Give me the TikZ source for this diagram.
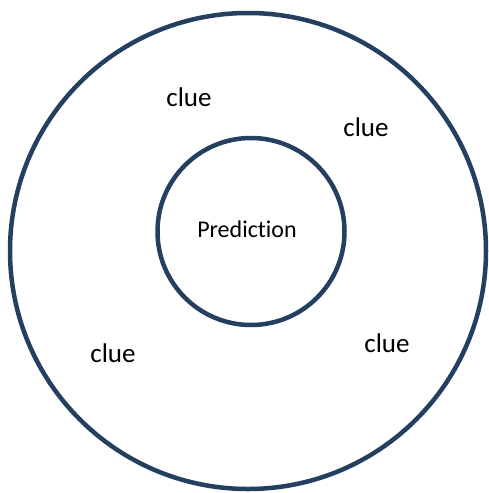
\documentclass[tikz,border=0pt]{standalone}
\usepackage{fontspec}
\setmainfont[Ligatures=NoCommon]{Carlito}
\definecolor{ringblue}{RGB}{36,63,96}
\begin{document}
\begin{tikzpicture}[x=1pt, y=-1pt, ring/.style={draw=ringblue, line width=4.5pt},
  clue/.style={font=\fontsize{27}{29}\selectfont}]
  % 枠
  \useasboundingbox (0,0) rectangle (489,493);

  % 中心
  \coordinate (O) at (248,251);
  \coordinate (P) at (251,231.5);

  % 外側の円
  \draw[ring] (O) circle[radius=238];

  % 内側の円
  \draw[ring] (P) circle[radius=93.5];
  \node[font=\fontsize{24}{26}\selectfont] (pred) at (247,229) {Prediction};

  % 手がかり
  \node[clue] (c1) at (189,97) {clue};
  \node[clue] (c2) at (366,127) {clue};
  \node[clue] (c3) at (113,353) {clue};
  \node[clue] (c4) at (387,343) {clue};
\end{tikzpicture}
\end{document}
